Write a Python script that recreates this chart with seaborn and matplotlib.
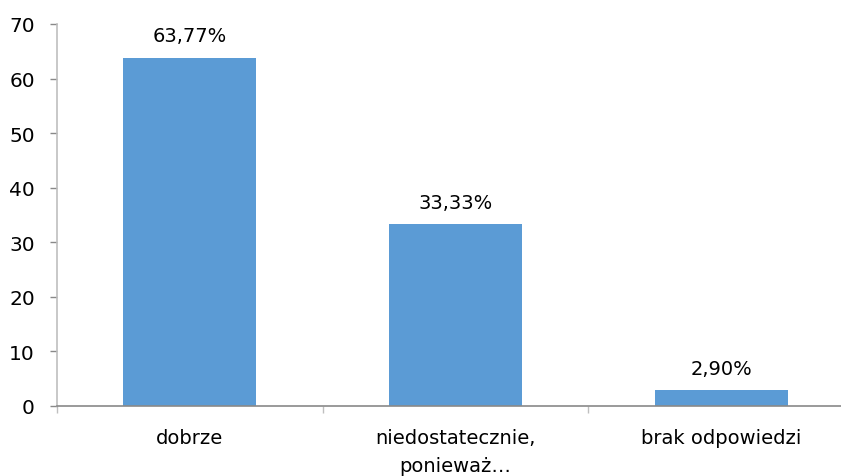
import numpy as np
import pandas as pd
import matplotlib
matplotlib.use('Agg')
import matplotlib.pyplot as plt
from matplotlib.ticker import FixedLocator
import seaborn as sns

# dane
kategorie = ['dobrze', 'niedostatecznie,\nponieważ…', 'brak odpowiedzi']
wartosci = [63.77, 33.33, 2.90]
etykiety = ['63,77%', '33,33%', '2,90%']
y_ticks = [0, 10, 20, 30, 40, 50, 60, 70]

sns.set_theme(style='white')
plt.rcParams['font.family'] = ['DejaVu Sans']

df = pd.DataFrame({'kategoria': kategorie, 'wartosc': wartosci})

fig = plt.figure(figsize=(8.41, 4.77), dpi=100)
ax = fig.add_axes([57 / 841, 70 / 477, 797 / 841, 382 / 477])

sns.barplot(data=df, x='kategoria', y='wartosc', color='#5B9BD5',
            saturation=1, width=0.5, linewidth=0, ax=ax)

# etykiety nad słupkami
for i, (v, t) in enumerate(zip(wartosci, etykiety)):
    ax.annotate(t, xy=(i, v), xytext=(0, 9), textcoords='offset points',
                ha='center', va='bottom', fontsize=14, color='#000000')

ax.set_xlim(-0.5, 2.5)
ax.set_ylim(0, 70)
ax.set_yticks(y_ticks)
ax.set_xlabel('')
ax.set_ylabel('')

for s in ['top', 'right']:
    ax.spines[s].set_visible(False)
ax.spines['left'].set_color('#BFBFBF')
ax.spines['bottom'].set_color('#898989')
ax.spines['left'].set_linewidth(1.2)
ax.spines['bottom'].set_linewidth(1.2)

ax.tick_params(axis='y', which='major', direction='out', length=5,
               color='#898989', width=1, pad=11, labelsize=14.5,
               labelcolor='#000000', left=True)
ax.tick_params(axis='x', which='major', length=0, pad=16, labelsize=14,
               labelcolor='#000000')
ax.xaxis.set_minor_locator(FixedLocator([-0.5, 0.5, 1.5, 2.5]))
ax.tick_params(axis='x', which='minor', direction='out', length=5,
               color='#BFBFBF', width=1, bottom=True)

for lab in ax.get_xticklabels():
    lab.set_linespacing(1.6)
    lab.set_verticalalignment('top')

fig.savefig('out.png', dpi=100, facecolor='white')
